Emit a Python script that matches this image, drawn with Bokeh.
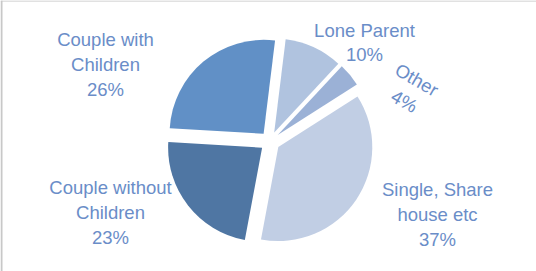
import math
from bokeh.plotting import figure
from bokeh.models import Range1d, ColumnDataSource, Span
from bokeh.core.properties import value
from bokeh.embed import file_html
from bokeh.resources import INLINE

# ---- data ----
categories = ["Couple with Children", "Lone Parent", "Other",
              "Single, Share house etc", "Couple without Children"]
label_text = ["Couple with\nChildren", "Lone Parent", "Other",
              "Single, Share\nhouse etc", "Couple without\nChildren"]
values = [26, 10, 4, 37, 23]

# ---- styling / layout ----
colors = ["#6190C6", "#B0C3DF", "#9BB1D6", "#C1CEE4", "#4F76A3"]
text_color = "#6A8DC8"
W, H = 536, 271
CX, CY_TOP = 269.5, 141    # pie centre (px from left, px from top)
R = 94                     # radius px
EXPLODE = 10               # explosion distance px
FIRST_ANGLE = 273.4        # clockwise from 12 o'clock, start of first slice
# label block centres (px from left, px from top) and rotation (deg)
label_pos = [(105, 64), (364, 42), (410, 90), (437, 214), (110, 212)]
label_rot = [0, 0, -30, 0, 0]

CY = H - CY_TOP
total = float(sum(values))
starts, ends, xs, ys, texts = [], [], [], [], []
cum = 0.0
for v, lab in zip(values, label_text):
    t0 = FIRST_ANGLE + 360.0 * cum / total
    t1 = FIRST_ANGLE + 360.0 * (cum + v) / total
    mid = math.radians((t0 + t1) / 2)
    xs.append(CX + EXPLODE * math.sin(mid))
    ys.append(CY + EXPLODE * math.cos(mid))
    starts.append(math.radians(90 - t0))
    ends.append(math.radians(90 - t1))
    texts.append(f"{lab}\n{round(100 * v / total)}%")
    cum += v

src = ColumnDataSource(dict(x=xs, y=ys, start=starts, end=ends, color=colors,
                            cat=categories))

p = figure(width=W, height=H, output_backend="svg", toolbar_location=None,
           x_range=Range1d(0, W), y_range=Range1d(0, H), min_border=0)
p.axis.visible = False
p.grid.visible = False
p.outline_line_color = None
p.background_fill_color = "white"
p.border_fill_color = "white"

# chart-area frame visible along top and left edges
p.add_layout(Span(location=H - 0.5, dimension="width",
                  line_color="#C4C4C4", line_width=1))
p.add_layout(Span(location=1.0, dimension="height",
                  line_color="#C8C8C8", line_width=2))

p.wedge(x="x", y="y", radius=R, radius_units="screen", start_angle="start",
        end_angle="end", direction="clock", fill_color="color",
        line_color=None, source=src)

lsrc = ColumnDataSource(dict(x=[q[0] for q in label_pos],
                             y=[H - q[1] for q in label_pos],
                             text=texts,
                             angle=[math.radians(a) for a in label_rot]))
p.text(x="x", y="y", text="text", angle="angle", source=lsrc,
       text_font=value("Liberation Sans"), text_font_size="18.5px",
       text_color=text_color, text_align="center", text_baseline="middle",
       text_line_height=1.18)

open("out.html", "w").write(file_html(p, INLINE))
